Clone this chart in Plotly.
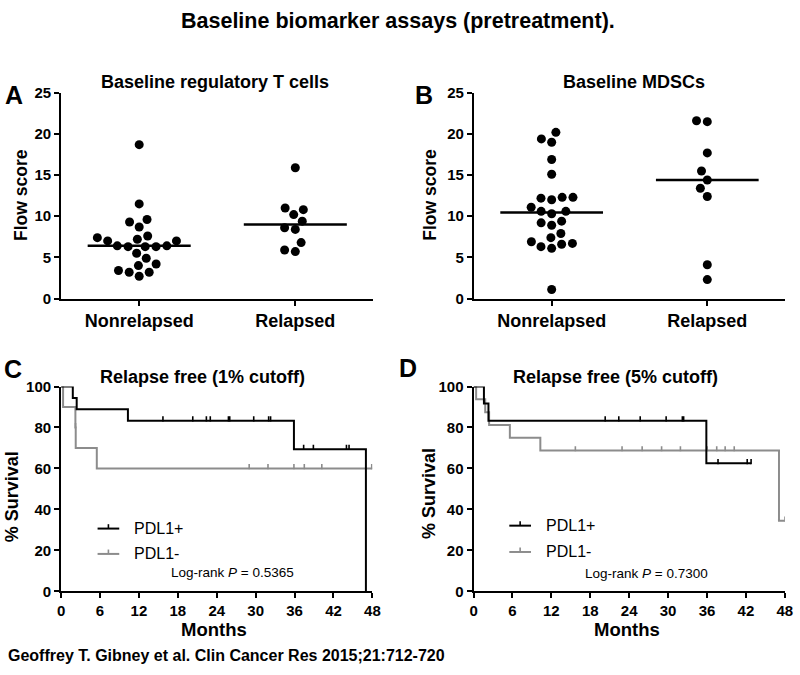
import numpy as np
import plotly.graph_objects as go

# ---------------- data ----------------
categories = ["Nonrelapsed", "Relapsed"]
treg_nonrelapsed = [18.7, 11.5, 9.3, 9.6, 8.7, 7.4, 7.0, 6.4, 6.3, 6.3, 6.3, 6.4,
                    7.0, 7.2, 7.6, 4.9, 5.5, 4.0, 4.2, 3.2, 3.2, 3.4, 2.7]
treg_relapsed = [15.9, 11.0, 10.2, 10.8, 9.4, 8.6, 8.4, 6.8, 5.7, 5.9]
mdsc_nonrelapsed = [20.2, 19.4, 19.0, 16.9, 15.1, 12.3, 12.2, 12.0, 12.3, 11.1, 10.6, 10.3,
                    10.6, 9.2, 9.4, 8.9, 7.9, 7.4, 6.7, 6.3, 6.1, 6.6, 6.9, 1.1]
mdsc_relapsed = [21.6, 21.5, 17.7, 15.5, 14.4, 13.4, 12.4, 4.1, 2.3]

flow_ticks = [0, 5, 10, 15, 20, 25]
month_ticks = [0, 6, 12, 18, 24, 30, 36, 42, 48]
survival_ticks = [0, 20, 40, 60, 80, 100]

# Kaplan-Meier, 1% cutoff
c_pos_event_t = [1.8, 2.4, 10.3, 35.9, 47.0]
c_pos_event_s = [94.4, 88.9, 83.3, 69.4, 0.0]
c_pos_censor_t = [15.7, 20.3, 22.4, 23.0, 25.8, 26.0, 29.7, 32.0, 32.3, 37.4, 38.9, 44.0, 44.4]
c_pos_end = 47.0
c_neg_event_t = [0.3, 2.2, 2.25, 5.5]
c_neg_event_s = [90.0, 80.0, 70.0, 60.0]
c_neg_censor_t = [2.22, 29.0, 31.9, 35.9, 37.5, 40.2, 47.9]
c_neg_end = 48.0
c_pvalue = "0.5365"

# Kaplan-Meier, 5% cutoff
d_pos_event_t = [1.6, 2.3, 35.9]
d_pos_event_s = [91.67, 83.33, 62.5]
d_pos_censor_t = [20.3, 22.4, 25.7, 29.7, 32.2, 32.4, 37.7, 42.2, 42.8]
d_pos_end = 42.8
d_neg_event_t = [0.4, 1.8, 2.4, 5.6, 10.3, 47.1]
d_neg_event_s = [93.75, 87.5, 81.25, 75.0, 68.75, 34.4]
d_neg_censor_t = [15.7, 22.9, 26.0, 29.0, 31.9, 36.0, 37.5, 38.8, 40.2, 48.0]
d_neg_end = 48.0
d_pvalue = "0.7300"

group_names = ["PDL1+", "PDL1-"]

# ---------------- style ----------------
W, H = 800, 675
FONT = "Liberation Sans"
BLACK = "#000000"
GRAY = "#8c8c8c"

def px(x):
    return x / W

def py(y):
    return 1 - y / H

fig = go.Figure()

# ---------------- scatter panels (beeswarm) ----------------
def beeswarm(values, y_px_per_unit, x_px_per_unit, d=11.0):
    vals = np.asarray(values, float)
    order = np.argsort(vals)
    placed = []
    offs = np.zeros(len(vals))
    for i in order:
        y = vals[i] * y_px_per_unit
        cands = [0.0]
        for (xj, yj) in placed:
            dy = abs(y - yj)
            if dy < d:
                dx = np.sqrt(d * d - dy * dy)
                cands += [xj + dx + 1e-6, xj - dx - 1e-6]
        cands.sort(key=lambda c: (abs(c), c))
        for c in cands:
            if all((c - xj) ** 2 + (y - yj) ** 2 >= d * d - 1e-3 for (xj, yj) in placed):
                break
        placed.append((c, y))
        offs[i] = c / x_px_per_unit
    return offs

ypu = 211.0 / 25.0
xpu = 317.0 / 2.0

def add_dot_panel(groups, xa, ya):
    for gi, vals in enumerate(groups):
        offs = beeswarm(vals, ypu, xpu)
        fig.add_trace(go.Scatter(
            x=gi + offs, y=vals, mode="markers", xaxis=xa, yaxis=ya,
            marker=dict(size=9, color=BLACK), showlegend=False, cliponaxis=False,
            hoverinfo="y"))
        med = float(np.median(vals))
        fig.add_trace(go.Scatter(
            x=[gi - 0.33, gi + 0.33], y=[med, med], mode="lines", xaxis=xa, yaxis=ya,
            line=dict(color=BLACK, width=2.5), showlegend=False, hoverinfo="skip"))

add_dot_panel([treg_nonrelapsed, treg_relapsed], "x", "y")
add_dot_panel([mdsc_nonrelapsed, mdsc_relapsed], "x2", "y2")

# ---------------- KM panels ----------------
TICK_UP = 4.5 / 2.1  # censor tick height, in % units (about 4.5 px)

def km_level(t, ev_t, ev_s):
    s = 100.0
    for et, es in zip(ev_t, ev_s):
        if et <= t:
            s = es
    return s

def add_km(ev_t, ev_s, cens_t, end, color, xa, ya):
    xs = [0.0] + list(ev_t) + [end]
    ys = [100.0] + list(ev_s) + [ev_s[-1]]
    fig.add_trace(go.Scatter(x=xs, y=ys, mode="lines", line_shape="hv", xaxis=xa, yaxis=ya,
                             line=dict(color=color, width=2), showlegend=False,
                             cliponaxis=False, hoverinfo="skip"))
    tx, ty = [], []
    for t in cens_t:
        s = km_level(t, ev_t, ev_s)
        tx += [t, t, None]
        ty += [s - 0.4, s + TICK_UP, None]
    fig.add_trace(go.Scatter(x=tx, y=ty, mode="lines", xaxis=xa, yaxis=ya,
                             line=dict(color=color, width=1.6), showlegend=False,
                             cliponaxis=False, hoverinfo="skip"))

add_km(c_neg_event_t, c_neg_event_s, c_neg_censor_t, c_neg_end, GRAY, "x3", "y3")
add_km(c_pos_event_t, c_pos_event_s, c_pos_censor_t, c_pos_end, BLACK, "x3", "y3")
add_km(d_neg_event_t, d_neg_event_s, d_neg_censor_t, d_neg_end, GRAY, "x4", "y4")
add_km(d_pos_event_t, d_pos_event_s, d_pos_censor_t, d_pos_end, BLACK, "x4", "y4")

# ---------------- axes ----------------
axis_common = dict(showline=True, linecolor=BLACK, linewidth=2, ticks="outside",
                   ticklen=5, tickwidth=2, tickcolor=BLACK, showgrid=False, zeroline=False,
                   tickfont=dict(family=FONT, size=15, color=BLACK, weight="bold"))

top_y = [py(297), py(86)]
bot_y = [py(597.3), py(387.3)]

cat_axis = dict(axis_common, range=[-0.5, 1.5], tickvals=[0, 1], ticktext=categories,
                tickfont=dict(family=FONT, size=18, color=BLACK, weight="bold"))
flow_axis = dict(axis_common, range=[0, 25], tickvals=flow_ticks)
month_axis = dict(axis_common, range=[0, 48], tickvals=month_ticks)
surv_axis = dict(axis_common, range=[0, 100], tickvals=survival_ticks)

fig.update_layout(
    xaxis=dict(cat_axis, domain=[px(58), px(375)], anchor="y"),
    yaxis=dict(flow_axis, domain=top_y, anchor="x"),
    xaxis2=dict(cat_axis, domain=[px(477), px(793)], anchor="y2"),
    yaxis2=dict(flow_axis, domain=top_y, anchor="x2"),
    xaxis3=dict(month_axis, domain=[px(58), px(374)], anchor="y3"),
    yaxis3=dict(surv_axis, domain=bot_y, anchor="x3"),
    xaxis4=dict(month_axis, domain=[px(476.7), px(792.7)], anchor="y4"),
    yaxis4=dict(surv_axis, domain=bot_y, anchor="x4"),
    showlegend=False,
)

# ---------------- annotations ----------------
def ann(text, x, y, size, bold=True, angle=0, xanchor="center"):
    fig.add_annotation(text=text, x=px(x), y=py(y), xref="paper", yref="paper",
                       showarrow=False, textangle=angle, xanchor=xanchor, yanchor="middle",
                       font=dict(family=FONT, size=size, color=BLACK,
                                 weight="bold" if bold else "normal"))

# manual legends (line with upward censor tick + label)
def legend_item(x0, y, name, color):
    fig.add_shape(type="line", xref="paper", yref="paper", x0=px(x0), x1=px(x0 + 22),
                  y0=py(y), y1=py(y), line=dict(color=color, width=2))
    fig.add_shape(type="line", xref="paper", yref="paper", x0=px(x0 + 11), x1=px(x0 + 11),
                  y0=py(y), y1=py(y - 4.5), line=dict(color=color, width=1.6))
    ann(name, x0 + 35, y, 16, bold=False, xanchor="left")

legend_item(95, 533, group_names[0], BLACK)
legend_item(95, 559, group_names[1], GRAY)
legend_item(513, 530, group_names[0], BLACK)
legend_item(513, 557, group_names[1], GRAY)

ann("Baseline biomarker assays (pretreatment).", 400, 12, 21.5)
ann("A", 10, 88, 25)
ann("B", 426, 88, 25)
ann("C", 9, 369, 25)
ann("D", 410, 368, 25)
ann("Baseline regulatory T cells", 214, 75, 18)
ann("Baseline MDSCs", 640, 75, 18)
ann("Relapse free (1% cutoff)", 202, 378, 18)
ann("Relapse free (5% cutoff)", 621, 378, 18)
ann("Flow score", 17, 191, 17.5, angle=-90)
ann("Flow score", 433, 191, 17.5, angle=-90)
ann("% Survival", 9, 500, 18, angle=-90)
ann("% Survival", 432, 497, 18, angle=-90)
ann("Months", 213, 637, 18.5)
ann("Months", 632, 637, 18.5)
ann("Log-rank <i>P</i> = " + c_pvalue, 232, 578, 13.5, bold=False)
ann("Log-rank <i>P</i> = " + d_pvalue, 652, 579, 13.5, bold=False)
ann("Geoffrey T. Gibney et al. Clin Cancer Res 2015;21:712-720", 2, 663, 16, xanchor="left")

fig.update_layout(width=W, height=H, margin=dict(l=0, r=0, t=0, b=0),
                  paper_bgcolor="white", plot_bgcolor="white",
                  font=dict(family=FONT, color=BLACK))

fig.write_html("out.html", config={"displayModeBar": False},
               post_script="document.body.style.margin='0';document.body.style.overflow='hidden';")
